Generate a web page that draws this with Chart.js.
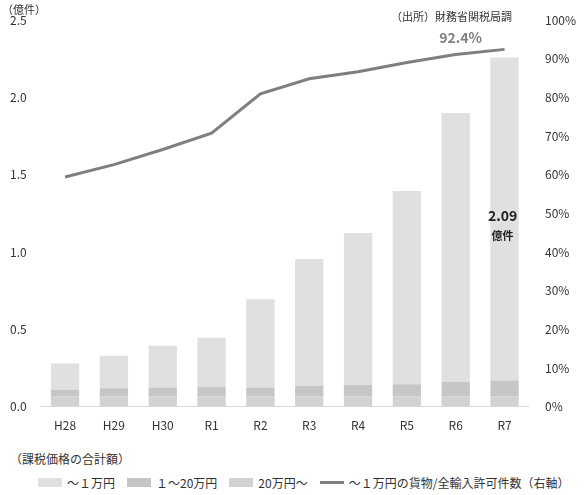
<!DOCTYPE html>
<html><head><meta charset="utf-8">
<script src="https://cdn.jsdelivr.net/npm/chart.js@4"></script>
<style>
body{margin:0;background:#fff;font-family:"Noto Sans CJK JP","Noto Sans",sans-serif;color:#333}
#wrap{position:relative;width:588px;height:445px}
#t1{position:absolute;left:10px;top:450px;font-size:12px}
#leg{position:absolute;left:38px;top:474px;font-size:12px;display:flex;align-items:center;white-space:nowrap}
.sw{display:inline-block;width:24px;height:9px;margin-right:5px}
.it{display:flex;align-items:center;margin-right:12px}
</style></head><body>
<div id="wrap"><canvas id="c" width="588" height="445"></canvas></div>
<div id="t1">（課税価格の合計額）</div>
<div id="leg">
<span class="it"><span class="sw" style="background:#e0e0e0"></span>～１万円</span>
<span class="it"><span class="sw" style="background:#c6c6c6"></span>１～20万円</span>
<span class="it"><span class="sw" style="background:#d2d2d2"></span>20万円～</span>
<span class="it" style="margin-right:0"><span class="sw" style="background:#7f7f7f;height:3px"></span>～１万円の貨物/全輸入許可件数（右軸）</span>
</div>
<script>
const categories=["H28","H29","H30","R1","R2","R3","R4","R5","R6","R7"];
const over20=[0.065,0.065,0.065,0.065,0.065,0.065,0.066,0.066,0.066,0.067];
const mid1to20=[0.044,0.054,0.059,0.061,0.059,0.070,0.076,0.078,0.093,0.101];
const under1=[0.17,0.21,0.27,0.32,0.57,0.82,0.98,1.25,1.74,2.09];
const sharePct=[59.4,62.6,66.5,70.7,80.9,84.8,86.6,89.0,91.1,92.4];
const leftTicks=[0,0.5,1.0,1.5,2.0,2.5];
const F='"Noto Sans CJK JP","Noto Sans",sans-serif';
const ann={id:'ann',afterDraw(ch){const c=ch.ctx,x=ch.scales.x,y=ch.scales.y,y1=ch.scales.y1;c.save();
c.font='11px '+F;c.fillStyle='#333';c.textAlign='left';c.textBaseline='middle';c.fillText('（億件）',2,10);
c.textAlign='right';c.fillText('（出所）財務省関税局調',512,17);
const i=9,px=x.getPixelForValue(i);
c.font='bold 14px '+F;c.fillStyle='#7f7f7f';c.textAlign='center';c.fillText(sharePct[i]+'%',px-44,y1.getPixelForValue(sharePct[i])-12);
c.fillStyle='#222';c.font='bold 14px '+F;c.fillText(under1[i].toFixed(2),px-2,216);c.font='bold 11px '+F;c.fillText('億件',px-2,236);
c.restore();}};
new Chart(document.getElementById('c'),{
data:{labels:categories,datasets:[
{type:'line',data:sharePct,yAxisID:'y1',borderColor:'#7f7f7f',borderWidth:3,pointRadius:0,tension:0,order:0},
{type:'bar',data:over20,backgroundColor:'#d2d2d2',stack:'s',order:1},
{type:'bar',data:mid1to20,backgroundColor:'#c6c6c6',stack:'s',order:1},
{type:'bar',data:under1,backgroundColor:'#e0e0e0',stack:'s',order:1}]},
options:{responsive:false,animation:false,devicePixelRatio:1,
layout:{padding:{top:20,right:4,left:4,bottom:0}},
plugins:{legend:{display:false},tooltip:{enabled:false}},
datasets:{bar:{barPercentage:0.58,categoryPercentage:1}},
scales:{
x:{stacked:true,grid:{display:false,drawTicks:false},border:{color:'#d9d9d9'},ticks:{color:'#333',font:{size:12,family:F},padding:12}},
y:{stacked:true,min:0,max:2.5,afterBuildTicks:a=>{a.ticks=leftTicks.map(v=>({value:v}))},grid:{display:false},border:{display:false},ticks:{color:'#333',font:{size:12,family:F},callback:v=>v.toFixed(1),padding:6}},
y1:{position:'right',min:0,max:100,grid:{display:false},border:{display:false},ticks:{stepSize:10,color:'#333',font:{size:12,family:F},callback:v=>v+'%',padding:8}}
}},plugins:[ann]});
</script></body></html>
